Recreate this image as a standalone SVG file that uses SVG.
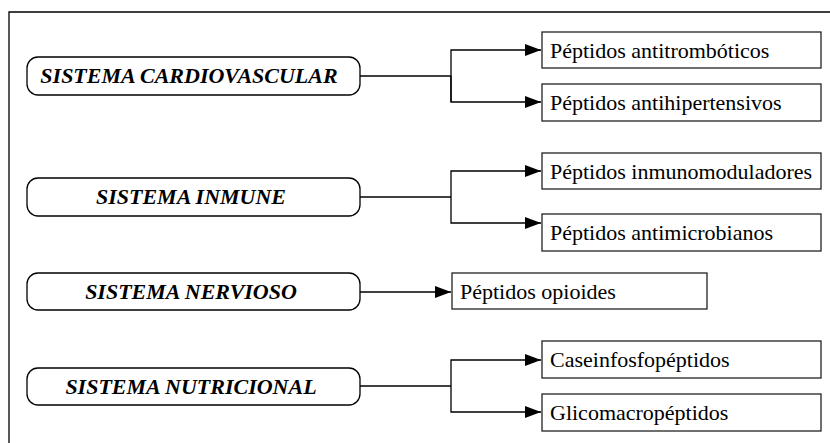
<svg xmlns="http://www.w3.org/2000/svg" width="830" height="443" viewBox="0 0 830 443">
<style>
.frame{fill:none;stroke:#000;stroke-width:1.3}
.pill{fill:#fff;stroke:#000;stroke-width:1.3}
.box{fill:#fff;stroke:#222;stroke-width:1.3}
.sys{font-family:"Liberation Serif","Times New Roman",serif;font-weight:bold;font-style:italic;font-size:22px;fill:#000;text-anchor:middle}
.lbl{font-family:"Liberation Serif","Times New Roman",serif;font-size:22px;fill:#000}
.conn{fill:none;stroke:#000;stroke-width:1.3}
</style>
<defs>
<marker id="arr" markerWidth="16" markerHeight="12" refX="16" refY="6" orient="auto" markerUnits="userSpaceOnUse">
<path d="M0,0 L16,6 L0,12 Z" fill="#000"/>
</marker>
</defs>
<rect width="830" height="443" fill="#fff"/>
<path class="frame" d="M9,443 V12 H830"/>
<g id="cardio"><rect class="pill" x="27" y="57" width="333" height="38" rx="11"/><text class="sys" x="189" y="83">SISTEMA CARDIOVASCULAR</text></g>
<g id="inmune"><rect class="pill" x="27" y="178" width="333" height="38" rx="11"/><text class="sys" x="191" y="204">SISTEMA INMUNE</text></g>
<g id="nervioso"><rect class="pill" x="27" y="273" width="333" height="37" rx="11"/><text class="sys" x="191" y="299">SISTEMA NERVIOSO</text></g>
<g id="nutricional"><rect class="pill" x="27" y="368" width="333" height="37" rx="11"/><text class="sys" x="191" y="394">SISTEMA NUTRICIONAL</text></g>
<g id="antitrombo"><rect class="box" x="542" y="32" width="279" height="36"/><text class="lbl" x="550" y="58">Péptidos antitrombóticos</text></g>
<g id="antihiper"><rect class="box" x="542" y="84" width="279" height="37"/><text class="lbl" x="550" y="110">Péptidos antihipertensivos</text></g>
<g id="inmuno"><rect class="box" x="542" y="153" width="279" height="36"/><text class="lbl" x="550" y="179">Péptidos inmunomoduladores</text></g>
<g id="antimicro"><rect class="box" x="542" y="214" width="279" height="37"/><text class="lbl" x="550" y="240">Péptidos antimicrobianos</text></g>
<g id="opioides"><rect class="box" x="452" y="273" width="255" height="36"/><text class="lbl" x="460" y="299">Péptidos opioides</text></g>
<g id="caseino"><rect class="box" x="542" y="341" width="279" height="37"/><text class="lbl" x="550" y="367">Caseinfosfopéptidos</text></g>
<g id="glico"><rect class="box" x="542" y="394" width="279" height="37"/><text class="lbl" x="550" y="420">Glicomacropéptidos</text></g>
<g id="connectors">
<path class="conn" d="M360,76 H451"/>
<path class="conn" d="M451,102 V50 H541" marker-end="url(#arr)"/>
<path class="conn" d="M451,76 V102 H541" marker-end="url(#arr)"/>
<path class="conn" d="M360,197 H451"/>
<path class="conn" d="M451,197 V171 H541" marker-end="url(#arr)"/>
<path class="conn" d="M451,197 V223 H541" marker-end="url(#arr)"/>
<path class="conn" d="M360,292 H451" marker-end="url(#arr)"/>
<path class="conn" d="M360,386 H451"/>
<path class="conn" d="M451,386 V360 H541" marker-end="url(#arr)"/>
<path class="conn" d="M451,386 V412 H541" marker-end="url(#arr)"/>
</g>
</svg>
